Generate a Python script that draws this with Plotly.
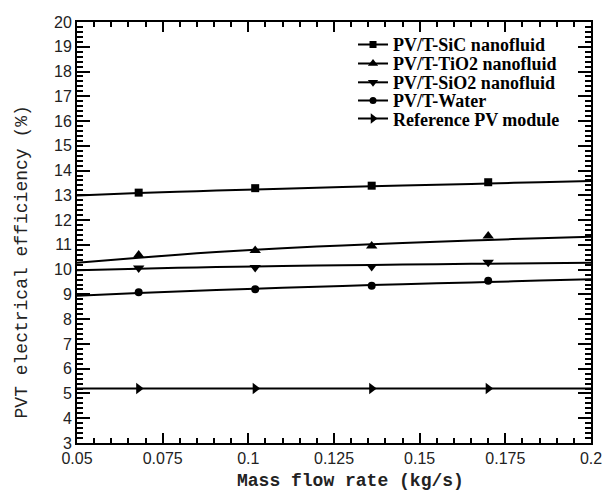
import plotly.graph_objects as go

# Measured points (mass flow rate, kg/s)
flow = [0.068, 0.102, 0.136, 0.17]
sic_pts = [13.11, 13.29, 13.39, 13.53]
tio2_pts = [10.59, 10.77, 10.95, 11.36]
sio2_pts = [10.07, 10.09, 10.13, 10.30]
water_pts = [9.09, 9.21, 9.35, 9.55]
ref_pts = [5.2, 5.2, 5.2, 5.2]

# Fitted curves across the full flow range
fit_x = [0.05, 0.068, 0.085, 0.102, 0.12, 0.136, 0.155, 0.17, 0.185, 0.2]
sic_fit = [12.99, 13.09, 13.17, 13.24, 13.31, 13.37, 13.43, 13.48, 13.53, 13.58]
tio2_fit = [10.28, 10.48, 10.66, 10.80, 10.93, 11.03, 11.13, 11.20, 11.27, 11.33]
sio2_fit = [9.98, 10.04, 10.09, 10.13, 10.17, 10.19, 10.22, 10.24, 10.26, 10.28]
water_fit = [8.95, 9.06, 9.15, 9.23, 9.31, 9.38, 9.45, 9.50, 9.56, 9.61]
ref_fit = [5.2] * len(fit_x)

names = ["PV/T-SiC nanofluid", "PV/T-TiO2 nanofluid", "PV/T-SiO2 nanofluid",
         "PV/T-Water", "Reference PV module"]
symbols = ["square", "triangle-up", "triangle-down", "circle", "triangle-right"]
sizes = [8, 10, 10, 8, 10]
points = [sic_pts, tio2_pts, sio2_pts, water_pts, ref_pts]
fits = [sic_fit, tio2_fit, sio2_fit, water_fit, ref_fit]

legend_ids = ["legend", "legend2", "legend3", "legend4", "legend5"]
legend_y = [0.946, 0.901, 0.856, 0.813, 0.770]
legend_font = dict(family="Liberation Serif, Times New Roman", size=18, color="black", weight="bold")

fig = go.Figure()
for name, sym, sz, pts, fit, lid in zip(names, symbols, sizes, points, fits, legend_ids):
    fig.add_trace(go.Scatter(x=fit_x, y=fit, mode="lines", line=dict(color="black", width=2),
                             line_shape="spline", showlegend=False, hoverinfo="skip"))
    fig.add_trace(go.Scatter(x=flow, y=pts, mode="markers",
                             marker=dict(symbol=sym, size=sz, color="black"), showlegend=False))
    # legend entry: line with marker, one compact legend per row
    fig.add_trace(go.Scatter(x=[None], y=[None], mode="lines+markers", name=name, legend=lid,
                             line=dict(color="black", width=2),
                             marker=dict(symbol=sym, size=sz - 1, color="black")))

tickfont = dict(family="Liberation Sans, Arial", size=16, color="#222")
axis_common = dict(showline=True, linecolor="black", linewidth=2, mirror="allticks",
                   ticks="inside", tickcolor="black", tickwidth=2, showgrid=False,
                   zeroline=False, tickfont=tickfont)

fig.update_xaxes(range=[0.05, 0.2], dtick=0.025, tick0=0.05, ticklen=10,
                 minor=dict(dtick=0.005, ticks="inside", ticklen=5, tickcolor="black", tickwidth=1.5),
                 **axis_common)
fig.update_yaxes(range=[3, 20], dtick=1, tick0=3, ticklen=13,
                 minor=dict(dtick=0.2, ticks="inside", ticklen=6, tickcolor="black", tickwidth=1.5),
                 **axis_common)

title_font = dict(family="Liberation Mono, Courier New", size=18, color="#222")
fig.add_annotation(text="<b>Mass flow rate (kg/s)</b>", xref="paper", yref="paper",
                   x=0.533, y=-0.09, xanchor="center", yanchor="middle",
                   showarrow=False, font=title_font)
fig.add_annotation(text="PVT electrical efficiency (%)", xref="paper", yref="paper",
                   x=-0.108, y=0.43, xanchor="center", yanchor="middle", textangle=-90,
                   showarrow=False, font=title_font)

layout_legends = {}
for lid, ly in zip(legend_ids, legend_y):
    layout_legends[lid] = dict(x=0.537, y=ly, xanchor="left", yanchor="middle",
                               bgcolor="rgba(0,0,0,0)", font=legend_font, itemwidth=30,
                               borderwidth=0)

fig.update_layout(
    width=614, height=493,
    margin=dict(l=77, r=17, t=22, b=50),
    plot_bgcolor="white", paper_bgcolor="white",
    **layout_legends,
)

fig.write_html("out.html")
